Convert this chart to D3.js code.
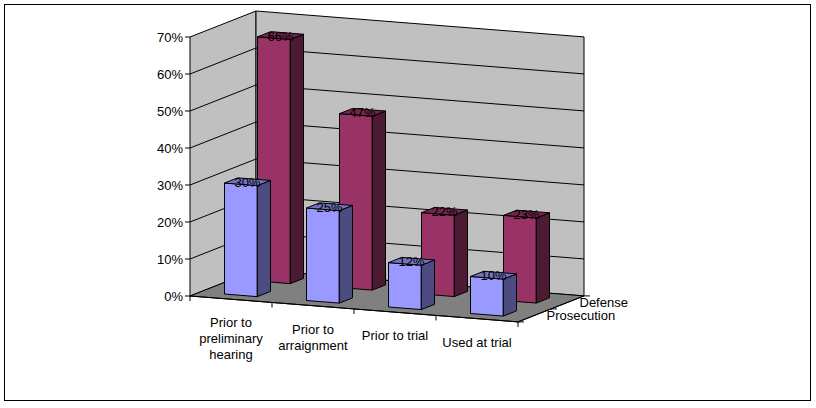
<!DOCTYPE html>
<html><head><meta charset="utf-8">
<script src="https://cdn.jsdelivr.net/npm/d3@7"></script>
<style>body{margin:0;background:#fff}text{font-family:"Liberation Sans",Arial,sans-serif;font-size:13px}</style>
</head><body>
<svg id="c" width="816" height="408"></svg>
<script>
var categories = [["Prior to", "preliminary", "hearing"], ["Prior to", "arraignment"], ["Prior to trial"], ["Used at trial"]];
var series = ["Prosecution", "Defense"];
var prosecution = [0.30, 0.25, 0.12, 0.10];
var defense = [0.66, 0.47, 0.22, 0.23];
var yTicks = [0, 0.1, 0.2, 0.3, 0.4, 0.5, 0.6, 0.7];

var svg = d3.select('#c');
var xs = d3.scaleLinear().domain([0, 4]).range([0, 328]);
var ys = d3.scaleLinear().domain([0, 0.7]).range([0, 259]);
var zs = d3.scaleLinear().domain([0, 2]).range([0, 1]);
var ox = 190, oy = 296;

// project category position c, depth z, value v
function p(c, z, v) {
    var px = xs(c), d = zs(z);
    return [ox + px + 66 * d, oy + px * 0.079 - 26 * d - ys(v)];
}
function poly(pts, fill) {
    svg.append('polygon').attr('points', pts.map(function (q) { return q.join(','); }).join(' '))
        .attr('fill', fill).attr('stroke', '#000').attr('stroke-width', 1).attr('stroke-linejoin', 'round');
}

svg.append('rect').attr('x', 4.5).attr('y', 4.5).attr('width', 806).attr('height', 396).attr('fill', 'none').attr('stroke', '#000');

// walls and floor
poly([p(0, 0, 0), p(0, 2, 0), p(0, 2, 0.7), p(0, 0, 0.7)], '#c0c0c0');
poly([p(0, 2, 0), p(4, 2, 0), p(4, 2, 0.7), p(0, 2, 0.7)], '#c0c0c0');
poly([p(0, 0, 0), p(4, 0, 0), p(4, 2, 0), p(0, 2, 0)], '#808080');

yTicks.forEach(function (t) {
    if (t > 0 && t < 0.7) {
        var a = p(0, 0, t), b = p(0, 2, t), c = p(4, 2, t);
        svg.append('polyline').attr('points', [a, b, c].map(function (q) { return q.join(','); }).join(' '))
            .attr('fill', 'none').attr('stroke', '#000');
    }
    var q = p(0, 0, t);
    svg.append('line').attr('x1', q[0] - 5).attr('x2', q[0]).attr('y1', q[1]).attr('y2', q[1]).attr('stroke', '#000');
    svg.append('text').attr('x', q[0] - 7).attr('y', q[1] + 5).attr('text-anchor', 'end').text(d3.format('.0%')(t));
});

// category axis ticks and labels
d3.range(5).forEach(function (i) {
    var q = p(i, 0, 0);
    svg.append('line').attr('x1', q[0]).attr('x2', q[0]).attr('y1', q[1]).attr('y2', q[1] + 5).attr('stroke', '#000');
});
svg.append('line').attr('x1', p(0, 0, 0)[0]).attr('y1', p(0, 0, 0)[1]).attr('x2', p(4, 0, 0)[0]).attr('y2', p(4, 0, 0)[1]).attr('stroke', '#000');
categories.forEach(function (lines, i) {
    var q = p(i + 0.5, 0, 0);
    var t = svg.append('text').attr('text-anchor', 'middle');
    lines.forEach(function (l, k) {
        t.append('tspan').attr('x', q[0]).attr('y', q[1] + 28 + k * 16).text(l);
    });
});

// depth axis
var da = p(4, 0, 0), db = p(4, 2, 0);
svg.append('line').attr('x1', da[0]).attr('y1', da[1]).attr('x2', db[0]).attr('y2', db[1]).attr('stroke', '#000');
[0, 1, 2].forEach(function (z) {
    var q = p(4, z, 0);
    svg.append('line').attr('x1', q[0]).attr('y1', q[1]).attr('x2', q[0] + 6).attr('y2', q[1]).attr('stroke', '#000');
});
series.forEach(function (s, k) {
    var q = p(4, k + 0.5, 0);
    svg.append('text').attr('x', q[0] + 12).attr('y', q[1] + 5).text(s);
});

// bars, back row first
var colors = [
    { front: '#9999ff', side: '#4c4c80', top: '#7373c0' },
    { front: '#993366', side: '#4c1a33', top: '#73264d' }
];
[[defense, 1], [prosecution, 0]].forEach(function (pair) {
    var vals = pair[0], k = pair[1], col = colors[k];
    vals.forEach(function (v, i) {
        var c0 = i + 0.3, c1 = i + 0.7, z0 = k + 0.3, z1 = k + 0.7;
        poly([p(c0, z0, 0), p(c1, z0, 0), p(c1, z0, v), p(c0, z0, v)], col.front);
        poly([p(c1, z0, 0), p(c1, z1, 0), p(c1, z1, v), p(c1, z0, v)], col.side);
        poly([p(c0, z0, v), p(c1, z0, v), p(c1, z1, v), p(c0, z1, v)], col.top);
        var q = p(i + 0.5, k + 0.5, v);
        svg.append('text').attr('x', q[0]).attr('y', q[1] + 5).attr('text-anchor', 'middle').text(d3.format('.0%')(v));
    });
});
</script>
</body></html>
